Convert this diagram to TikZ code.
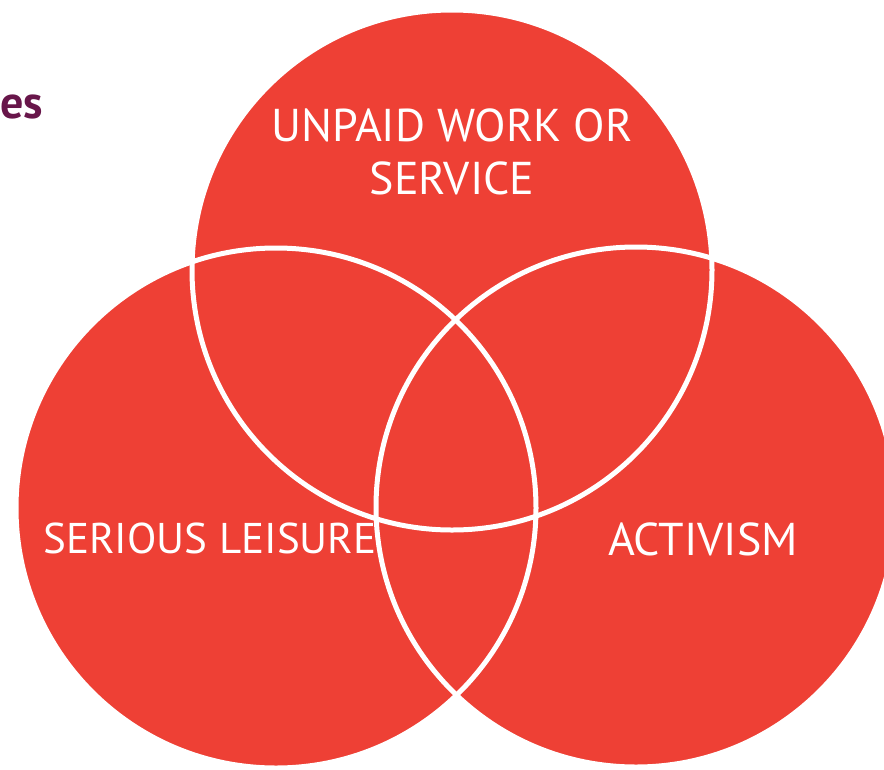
\documentclass[tikz,border=0pt]{standalone}
\usepackage{fontspec}
\setmainfont{PT Sans}
\usepackage{tikz}
\usetikzlibrary{positioning}

\definecolor{vennred}{RGB}{238,64,53}
\definecolor{plum}{RGB}{104,22,74}

\tikzset{
  blob/.style={circle, fill=vennred, minimum size=520pt, inner sep=0pt},
  rim/.style={draw=white, line width=5pt},
  venntext/.style={text=white, font=\fontsize{46}{53}\selectfont, align=center}
}

\begin{document}
\begin{tikzpicture}[x=1pt, y=-1pt]
  \useasboundingbox (0,0) rectangle (884,769);

  \node at (-3,118) [anchor=base west, text=plum, font=\bfseries\fontsize{46}{50}\selectfont] (title) {es};

  \node at (276,508) [blob] (leisure) {};
  \node at (636,507) [blob] (activism) {};
  \node at (452,270) [blob] (work) {};

  \foreach \c in {leisure, activism, work}
    \draw[rim] (\c.center) circle [radius=260pt];

  \node at (452,152) [venntext] (workname) {UNPAID WORK OR\\SERVICE};
  \node at (210,553) [venntext, anchor=base, font=\fontsize{43}{50}\selectfont] (leisurename) {SERIOUS LEISURE};
  \node at (703,555) [venntext, anchor=base] (activismname) {ACTIVISM};
\end{tikzpicture}
\end{document}
